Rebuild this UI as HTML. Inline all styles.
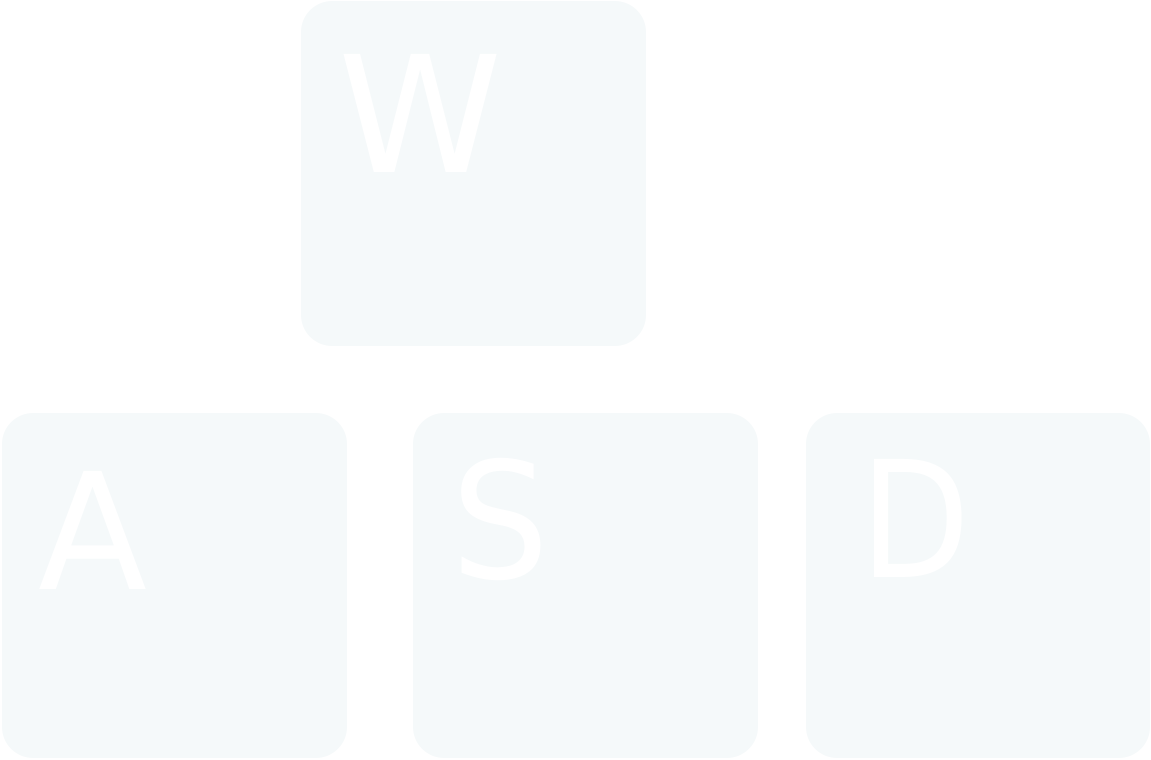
<!DOCTYPE html>
<html>
<head>
<meta charset="utf-8">
<style>
  html,body{margin:0;padding:0;background:#ffffff;width:1151px;height:760px;overflow:hidden;}
  svg{display:block;}
  text{font-family:"DejaVu Sans","Liberation Sans",sans-serif;fill:#ffffff;font-size:162px;}
</style>
</head>
<body>
<svg width="1151" height="760" viewBox="0 0 1151 760">
  <g>
    <rect x="301" y="1" width="345" height="345" rx="31" fill="#f5f9fa"/>
    <text x="338" y="172" textLength="164" lengthAdjust="spacingAndGlyphs">W</text>
  </g>
  <g>
    <rect x="2" y="413" width="345" height="345" rx="31" fill="#f5f9fa"/>
    <text x="38" y="589" textLength="109" lengthAdjust="spacingAndGlyphs">A</text>
  </g>
  <g>
    <rect x="413" y="413" width="345" height="345" rx="31" fill="#f5f9fa"/>
    <text x="451" y="578" textLength="98" lengthAdjust="spacingAndGlyphs">S</text>
  </g>
  <g>
    <rect x="806" y="413" width="344" height="345" rx="31" fill="#f5f9fa"/>
    <text x="860" y="577" textLength="110" lengthAdjust="spacingAndGlyphs">D</text>
  </g>
</svg>
</body>
</html>
